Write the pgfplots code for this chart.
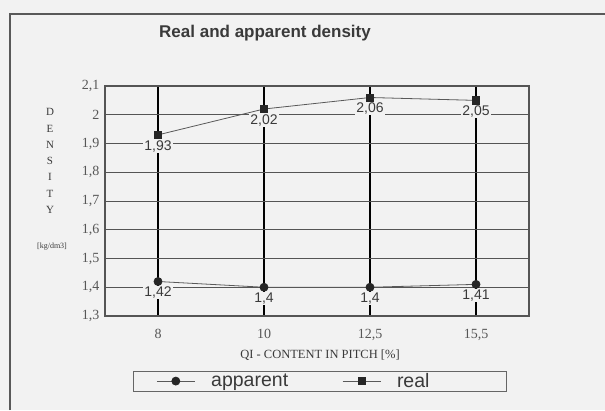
\documentclass[border=0pt]{standalone}
\usepackage{pgfplots}
\pgfplotsset{compat=1.18}
\usepackage{fontspec}
\setmainfont{Liberation Serif}
\newfontfamily\arial{Liberation Sans}
\definecolor{bg}{HTML}{F2F2F2}
\definecolor{txt}{HTML}{3A3A3A}
\definecolor{grd}{HTML}{555555}
\begin{document}
\begin{tikzpicture}
\fill[bg] (0pt,0pt) rectangle (605pt,410pt);
\useasboundingbox (0pt,0pt) rectangle (605pt,410pt);
\draw[gray!70!black, line width=1.2pt] (10pt,0pt) -- (10pt,396pt) -- (605pt,396pt);
\node[font=\arial\bfseries\fontsize{17}{19}\selectfont, text=txt] at (265pt,377pt) {Real and apparent density};
\node[font=\fontsize{11}{16.3}\selectfont, text=txt, align=center] at (50pt,249pt) {D\\E\\N\\S\\I\\T\\Y};
\node[font=\fontsize{8}{10}\selectfont, text=txt] at (52pt,163pt) {[kg/dm3]};
\node[font=\fontsize{12.5}{13}\selectfont, text=txt] at (320pt,55pt) {QI - CONTENT IN PITCH [\%]};
\begin{axis}[at={(105pt,94pt)}, anchor=south west, scale only axis,
  width=424pt, height=230pt,
  xmin=-0.5, xmax=3.5, ymin=1.3, ymax=2.1,
  xtick={0,1,2,3}, xticklabels={8,10,{12,5},{15,5}},
  ytick={1.3,1.4,1.5,1.6,1.7,1.8,1.9,2.0,2.1},
  /pgf/number format/.cd, use comma, fixed, precision=2, assume math mode=true,
  /pgfplots/.cd,
  yticklabel style={/pgf/number format/precision=1},
  tick label style={font=\fontsize{14}{16}\selectfont, text=txt!85},
  major tick length=0pt,
  xmajorgrids, ymajorgrids,
  major x grid style={black, line width=1.6pt},
  major y grid style={grd, line width=0.9pt},
  axis line style={grd, line width=1.2pt},
  axis background/.style={fill=bg},
  xticklabel shift=10pt, yticklabel shift=2pt,
  nodes near coords,
  every node near coord/.append style={anchor=north, yshift=-4pt, fill=bg, inner sep=1pt,
     font=\arial\fontsize{14}{15}\selectfont, text=txt,
     /pgf/number format/use comma, /pgf/number format/precision=2},
  legend columns=2,
  legend style={at={(0.507,-0.283)}, anchor=center, draw=gray!80!black, fill=bg,
     font=\arial\fontsize{19.5}{21}\selectfont, text=txt, line width=0.8pt,
     inner ysep=0pt,
     /tikz/every even column/.append style={column sep=8pt}},
  legend image code/.code={\path (-20pt,0pt); \draw[mark repeat=2,mark phase=2,#1] plot coordinates {(0pt,0pt)(19pt,0pt)(38pt,0pt)};},
]
\addplot[gray!70!black, line width=0.8pt, mark=*, mark size=4pt, mark options={fill=black!85, draw=black!85}]
  coordinates {(0,1.42) (1,1.40) (2,1.40) (3,1.41)};
\addlegendentry{\hspace*{14pt}apparent\hspace*{24pt}}
\addplot[gray!70!black, line width=0.8pt, mark=square*, mark size=3.6pt, mark options={fill=black!85, draw=black!85}]
  coordinates {(0,1.93) (1,2.02) (2,2.06) (3,2.05)};
\addlegendentry{\hspace*{14pt}real\hspace*{72pt}}
\end{axis}
\end{tikzpicture}
\end{document}
